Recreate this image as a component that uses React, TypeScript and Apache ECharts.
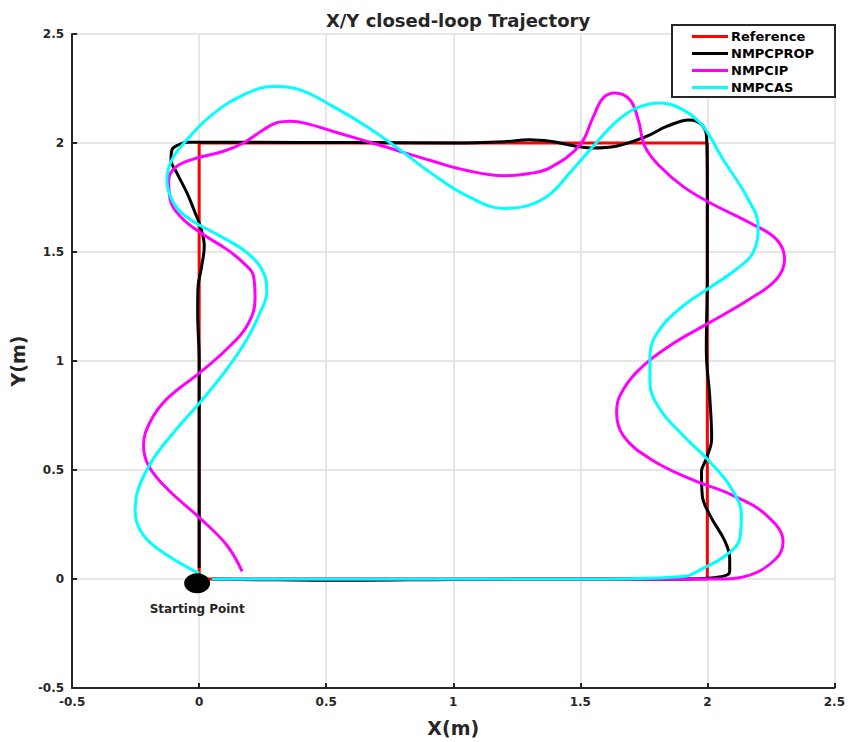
import React, { useEffect, useRef } from "react";
import * as echarts from "echarts";

const xTicks = [-0.5, 0, 0.5, 1, 1.5, 2, 2.5];
const yTicks = [-0.5, 0, 0.5, 1, 1.5, 2, 2.5];

const seriesNames = ["Reference", "NMPCPROP", "NMPCIP", "NMPCAS"];

const referencePath: number[][] = [
  [0, 0], [0, 2], [2, 2], [2, 0], [0, 0],
];

const nmpcPropPath: number[][] = [
  [0.0, 0.05], [0.0, 0.5], [0.0, 1.0], [-0.006, 1.22], [-0.005, 1.33], [0.01, 1.436],
  [0.02, 1.527], [0.004, 1.619], [-0.016, 1.68], [-0.048, 1.771], [-0.088, 1.863],
  [-0.111, 1.924], [-0.107, 1.969], [-0.081, 1.992], [-0.048, 2.003], [0.2, 2.003],
  [0.6, 2.002], [1.0, 2.0], [1.2, 2.006], [1.3, 2.015], [1.38, 2.008], [1.55, 1.977],
  [1.64, 1.985], [1.76, 2.03], [1.84, 2.076], [1.93, 2.106], [1.977, 2.084],
  [1.997, 2.03], [2.0, 1.83], [2.0, 1.4], [1.996, 1.055], [2.01, 0.826], [2.017, 0.643],
  [1.996, 0.552], [1.977, 0.492], [1.98, 0.384], [2.01, 0.293], [2.07, 0.172],
  [2.088, 0.095], [2.088, 0.035], [2.06, 0.012], [1.9, 0.0], [1.5, 0.0], [1.0, -0.002],
  [0.6, -0.006], [0.3, -0.004], [0.05, 0.0],
];

const nmpcIpPath: number[][] = [
  [0.169, 0.035], [0.109, 0.155], [0.004, 0.278], [-0.127, 0.415], [-0.2, 0.521],
  [-0.219, 0.613], [-0.193, 0.72], [-0.127, 0.826], [0.004, 0.948], [0.109, 1.055],
  [0.188, 1.161], [0.22, 1.284], [0.214, 1.39], [0.174, 1.45], [0.109, 1.512],
  [0.004, 1.589], [-0.075, 1.664], [-0.114, 1.74], [-0.12, 1.832], [-0.088, 1.893],
  [-0.009, 1.931], [0.096, 1.962], [0.174, 2.0], [0.253, 2.061], [0.305, 2.093],
  [0.36, 2.1], [0.42, 2.09], [0.528, 2.053], [0.725, 1.985], [0.921, 1.916], [1.05, 1.875],
  [1.2, 1.85], [1.3, 1.86], [1.38, 1.886], [1.498, 1.99], [1.551, 2.12], [1.59, 2.206],
  [1.636, 2.229], [1.695, 2.198], [1.728, 2.107], [1.754, 1.985], [1.813, 1.893],
  [1.905, 1.8], [2.01, 1.726], [2.167, 1.634], [2.272, 1.558], [2.304, 1.466],
  [2.272, 1.375], [2.167, 1.284], [2.01, 1.177], [1.852, 1.07], [1.721, 0.948],
  [1.656, 0.841], [1.643, 0.765], [1.669, 0.658], [1.774, 0.552], [1.931, 0.46],
  [2.1, 0.384], [2.232, 0.293], [2.298, 0.171], [2.272, 0.095], [2.167, 0.018],
  [2.036, 0.0], [1.5, 0.0], [1.0, 0.0], [0.5, 0.0], [0.06, 0.0],
];

const nmpcAsPath: number[][] = [
  [0.0, 0.026], [-0.127, 0.11], [-0.219, 0.2], [-0.252, 0.308], [-0.239, 0.415],
  [-0.18, 0.552], [-0.088, 0.689], [0.004, 0.811], [0.109, 0.963], [0.188, 1.1],
  [0.24, 1.223], [0.266, 1.314], [0.253, 1.406], [0.188, 1.497], [0.083, 1.573],
  [-0.035, 1.649], [-0.101, 1.726], [-0.127, 1.832], [-0.107, 1.924], [-0.048, 2.015],
  [0.043, 2.122], [0.161, 2.213], [0.292, 2.259], [0.397, 2.244], [0.528, 2.167],
  [0.659, 2.076], [0.79, 1.969], [0.921, 1.855], [1.05, 1.76], [1.2, 1.7], [1.3, 1.715],
  [1.38, 1.764], [1.459, 1.863], [1.551, 1.985], [1.643, 2.099], [1.721, 2.16],
  [1.813, 2.183], [1.905, 2.152], [1.983, 2.076], [2.062, 1.924], [2.154, 1.756],
  [2.2, 1.619], [2.18, 1.497], [2.114, 1.421], [2.01, 1.337], [1.905, 1.253],
  [1.813, 1.146], [1.774, 1.024], [1.774, 0.903], [1.813, 0.78], [1.905, 0.658],
  [2.01, 0.537], [2.095, 0.415], [2.134, 0.293], [2.128, 0.186], [2.075, 0.11],
  [1.983, 0.049], [1.905, 0.011], [1.6, 0.0], [1.0, 0.0], [0.5, 0.0], [0.05, 0.0],
];

const startPoint: number[] = [-0.008, -0.02];
const startLabel = "Starting Point";

const FONT = "'DejaVu Sans', 'Liberation Sans', Arial, sans-serif";
const TXT = "#262626";

export default function App() {
  const ref = useRef<HTMLDivElement>(null);
  useEffect(() => {
    if (!ref.current) return;
    const chart = echarts.init(ref.current, undefined, { renderer: "svg" });
    const lineSeries = (name: string, data: number[][], color: string, smooth: number | boolean) => ({
      name,
      type: "line",
      data,
      smooth,
      showSymbol: false,
      symbol: "none",
      lineStyle: { color, width: 3 },
      itemStyle: { color },
      z: 2,
    });
    chart.setOption({
      animation: false,
      backgroundColor: "#ffffff",
      textStyle: { fontFamily: FONT },
      title: {
        text: "X/Y closed-loop Trajectory",
        left: 453,
        textAlign: "center",
        top: 6,
        textStyle: { fontSize: 18, fontWeight: "bold", color: TXT, fontFamily: FONT },
      },
      legend: {
        data: seriesNames,
        orient: "vertical",
        left: 672,
        top: 25,
        icon: "rect",
        itemWidth: 36,
        itemHeight: 3,
        itemGap: 4,
        padding: [5, 21, 3, 20],
        borderColor: TXT,
        borderWidth: 2,
        backgroundColor: "#ffffff",
        textStyle: { fontSize: 13, fontWeight: "bold", color: "#000", fontFamily: FONT, padding: [0, 0, 0, -2] },
        z: 10,
      },
      grid: { left: 72, right: 13, top: 34, bottom: 52, containLabel: false },
      xAxis: {
        type: "value",
        min: xTicks[0],
        max: xTicks[xTicks.length - 1],
        interval: 0.5,
        name: "X(m)",
        nameLocation: "middle",
        nameGap: 30,
        nameTextStyle: { fontSize: 19, fontWeight: "bold", color: TXT, fontFamily: FONT },
        axisLine: { show: true, onZero: false, lineStyle: { color: TXT, width: 2 } },
        axisTick: { show: true, inside: true, length: 5, lineStyle: { color: TXT, width: 2 } },
        axisLabel: { fontSize: 12, fontWeight: "bold", color: TXT, margin: 8, fontFamily: FONT },
        splitLine: { show: true, lineStyle: { color: "#dedede", width: 1.5 } },
      },
      yAxis: {
        type: "value",
        min: yTicks[0],
        max: yTicks[yTicks.length - 1],
        interval: 0.5,
        name: "Y(m)",
        nameLocation: "middle",
        nameGap: 40,
        nameTextStyle: { fontSize: 19, fontWeight: "bold", color: TXT, fontFamily: FONT },
        axisLine: { show: true, onZero: false, lineStyle: { color: TXT, width: 2 } },
        axisTick: { show: true, inside: true, length: 5, lineStyle: { color: TXT, width: 2 } },
        axisLabel: { fontSize: 12, fontWeight: "bold", color: TXT, margin: 8, fontFamily: FONT },
        splitLine: { show: true, lineStyle: { color: "#dedede", width: 1.5 } },
      },
      series: [
        lineSeries(seriesNames[0], referencePath, "#ff0000", false),
        lineSeries(seriesNames[1], nmpcPropPath, "#000000", 0.4),
        lineSeries(seriesNames[2], nmpcIpPath, "#ff00ff", 0.4),
        lineSeries(seriesNames[3], nmpcAsPath, "#00ffff", 0.4),
        {
          name: "start",
          type: "scatter",
          data: [startPoint],
          symbol: "circle",
          symbolSize: [26, 20],
          itemStyle: { color: "#000000", opacity: 1 },
          z: 5,
          label: {
            show: true,
            position: "bottom",
            distance: 10,
            formatter: startLabel,
            fontSize: 12,
            fontWeight: "bold",
            color: TXT,
            fontFamily: FONT,
          },
        },
      ],
    });
    return () => chart.dispose();
  }, []);
  return (
    <div
      ref={ref}
      style={{ position: "absolute", left: 0, top: 0, width: 848, height: 742 }}
    />
  );
}
